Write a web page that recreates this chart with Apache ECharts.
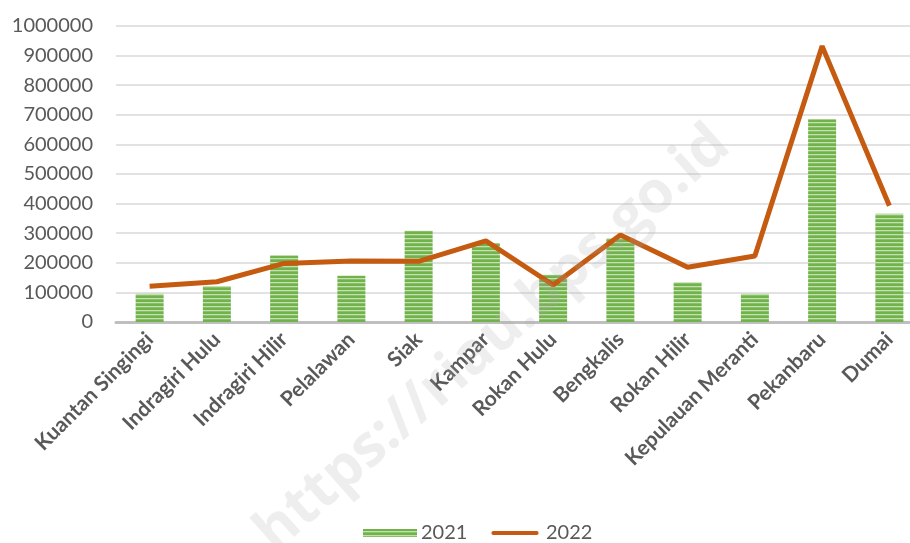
<!DOCTYPE html>
<html><head><meta charset="utf-8">
<script src="https://cdn.jsdelivr.net/npm/echarts@6/dist/echarts.min.js"></script>
<style>html,body{margin:0;padding:0;background:#fff}#c{width:910px;height:543px}</style>
</head><body><div id="c"></div>
<script>
var categories = ['Kuantan Singingi','Indragiri Hulu','Indragiri Hilir','Pelalawan','Siak','Kampar','Rokan Hulu','Bengkalis','Rokan Hilir','Kepulauan Meranti','Pekanbaru','Dumai'];
var values2021 = [95000,122000,225000,156000,308000,266000,160000,283000,134000,95000,685000,366000];
var values2022 = [121000,136000,198000,206000,205000,274000,125000,294000,185000,223000,932000,393000];
var yTicks = {min:0, max:1000000, interval:100000};

var pc = document.createElement('canvas');
pc.width = 8; pc.height = 4;
var g = pc.getContext('2d');
g.fillStyle = '#72b24c'; g.fillRect(0,0,8,4);
g.fillStyle = '#c2e2ad'; g.fillRect(0,2,8,1.3);

var chart = echarts.init(document.getElementById('c'));
chart.setOption({
  animation:false,
  textStyle:{fontFamily:'Lato, sans-serif'},
  grid:{left:116, top:26, width:807, height:296, containLabel:false, outerBoundsMode:'none'},
  legend:{
    top:518, left:358, itemGap:24,
    itemWidth:54, itemHeight:8,
    textStyle:{fontSize:20, color:'#595959', fontFamily:'Lato, sans-serif', padding:[0,0,0,-1]},
    data:[
      {name:'2021', icon:'rect', itemStyle:{color:{image:pc, repeat:'repeat'}}},
      {name:'2022', icon:'path://M0,0 L0,0 M2,2.5 L56,2.5 A2.5,2.5 0 0 1 56,7.5 L2,7.5 A2.5,2.5 0 0 1 2,2.5 Z M58,10 L58,10', itemStyle:{color:'#c55a11', borderWidth:0}}
    ]
  },
  xAxis:{
    type:'category', data:categories,
    axisLine:{lineStyle:{color:'#bfbfbf', width:3}},
    axisTick:{show:false},
    axisLabel:{rotate:45, interval:0, margin:14, fontSize:21, fontWeight:'bold', color:'#595959', fontFamily:'Lato, sans-serif'}
  },
  yAxis:{
    type:'value', min:yTicks.min, max:yTicks.max, interval:yTicks.interval,
    axisLine:{show:false}, axisTick:{show:false},
    axisLabel:{margin:23, fontSize:20, color:'#595959', fontFamily:'Lato, sans-serif', formatter:function(v){return String(v);}},
    splitLine:{lineStyle:{color:'#d9d9d9', width:1.5}}
  },
  series:[
    {name:'2021', type:'bar', data:values2021, barWidth:28,
     itemStyle:{color:{image:pc, repeat:'repeat'}}, z:2},
    {name:'2022', type:'line', data:values2022, showSymbol:false, symbol:'none',
     lineStyle:{color:'#c55a11', width:5}, itemStyle:{color:'#c55a11'}, z:3}
  ],
  graphic:[{
    type:'text', left:245, top:115, rotation:Math.PI*41.5/180, origin:[0,0],
    z:10, silent:true,
    style:{text:'https://riau.bps.go.id', x:0, y:0, fontSize:58, fontWeight:'bold',
      fill:'rgba(170,170,170,0.2)', fontFamily:'"Open Sans", sans-serif'}
  }]
});
</script></body></html>
